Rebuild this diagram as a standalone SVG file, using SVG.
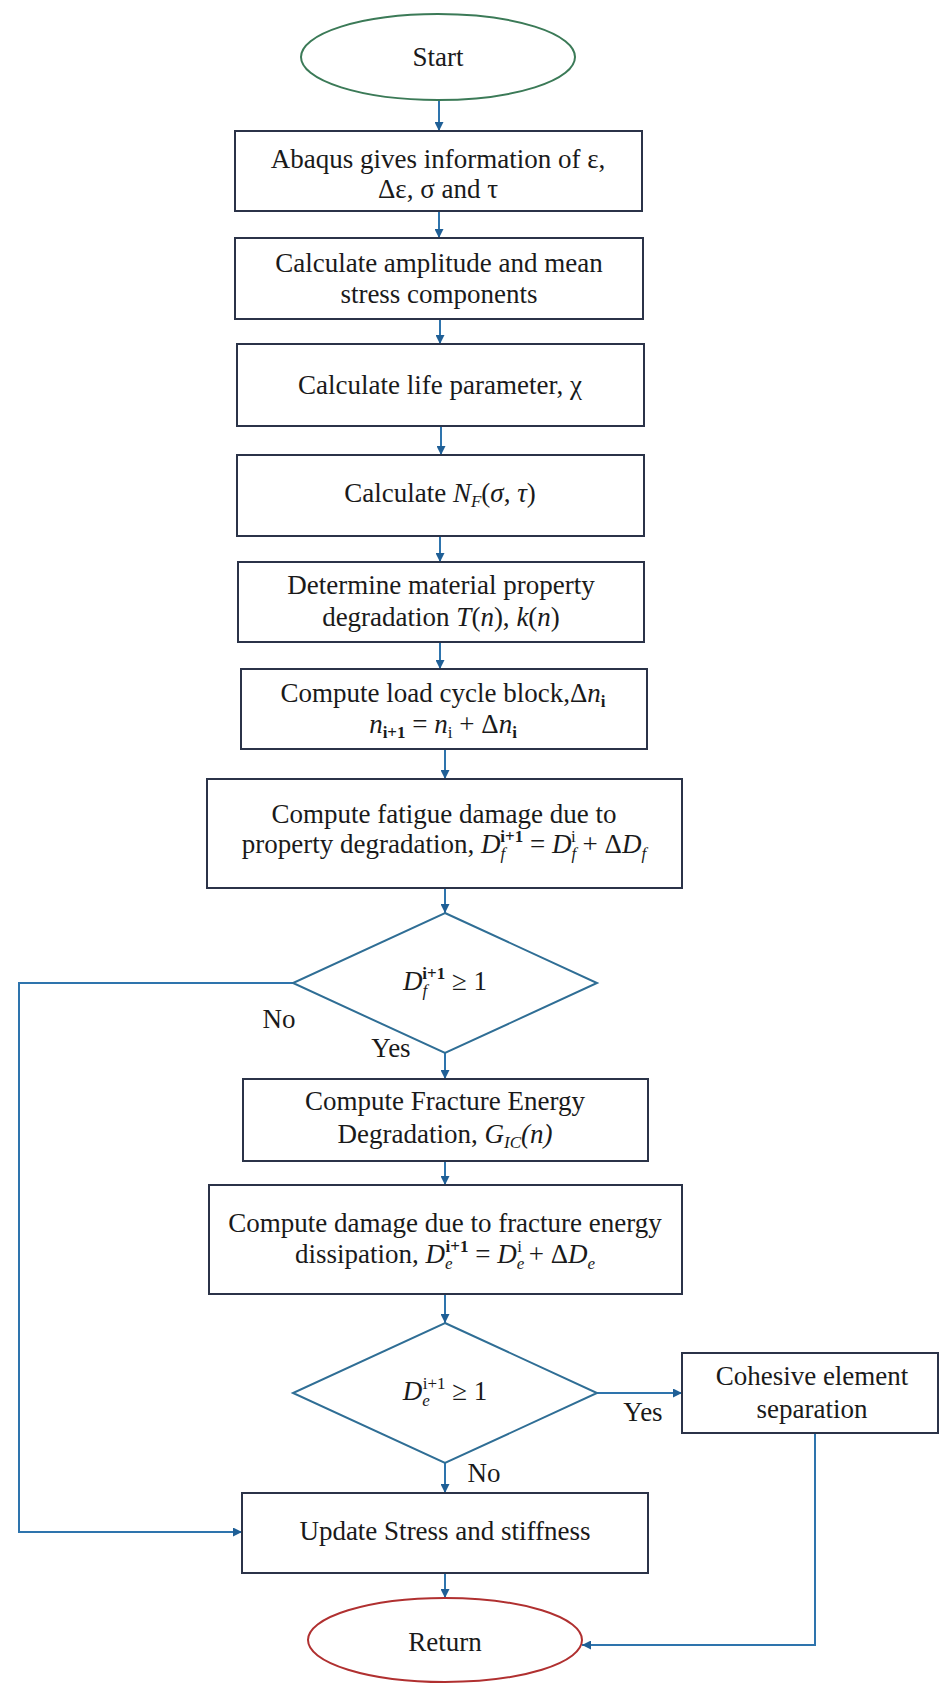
<svg xmlns="http://www.w3.org/2000/svg" width="941" height="1683" viewBox="0 0 941 1683">
<defs>
<marker id="arr" viewBox="0 0 10 10" refX="10" refY="5" markerWidth="11" markerHeight="9" markerUnits="userSpaceOnUse" orient="auto">
<path d="M0,0 L10,5 L0,10 z" fill="#1f5f96"/>
</marker>
<style>
.box{fill:#fff;stroke:#2b3348;stroke-width:2}
.dia{fill:#fff;stroke:#2f6e95;stroke-width:2}
.t{font-family:"Liberation Serif","Times New Roman",serif;font-size:27px;fill:#1a1a1a;text-anchor:middle}
.m{font-style:italic}
.s{font-size:17px}
.c{fill:none;stroke:#2e74ad;stroke-width:2}
</style>
</defs>
<rect width="941" height="1683" fill="#fff"/>

<g id="connectors">
<line class="c" x1="439" y1="100" x2="439" y2="131" marker-end="url(#arr)"/>
<line class="c" x1="439" y1="211" x2="439" y2="238" marker-end="url(#arr)"/>
<line class="c" x1="440" y1="319" x2="440" y2="344" marker-end="url(#arr)"/>
<line class="c" x1="441" y1="426" x2="441" y2="455" marker-end="url(#arr)"/>
<line class="c" x1="440" y1="536" x2="440" y2="562" marker-end="url(#arr)"/>
<line class="c" x1="440" y1="642" x2="440" y2="669" marker-end="url(#arr)"/>
<line class="c" x1="445" y1="749" x2="445" y2="779" marker-end="url(#arr)"/>
<line class="c" x1="445" y1="888" x2="445" y2="913" marker-end="url(#arr)"/>
<line class="c" x1="445" y1="1053" x2="445" y2="1079" marker-end="url(#arr)"/>
<line class="c" x1="445" y1="1161" x2="445" y2="1185" marker-end="url(#arr)"/>
<line class="c" x1="445" y1="1294" x2="445" y2="1323" marker-end="url(#arr)"/>
<line class="c" x1="445" y1="1463" x2="445" y2="1493" marker-end="url(#arr)"/>
<line class="c" x1="445" y1="1573" x2="445" y2="1598" marker-end="url(#arr)"/>
<line class="c" x1="597" y1="1393" x2="682" y2="1393" marker-end="url(#arr)"/>
<polyline class="c" points="815,1433 815,1645 582,1645" marker-end="url(#arr)"/>
<polyline class="c" points="293,983 19,983 19,1532 242,1532" marker-end="url(#arr)"/>
</g>

<g id="start">
<ellipse cx="438" cy="57" rx="137" ry="43" fill="#fff" stroke="#3b7a57" stroke-width="2"/>
<text class="t" x="438" y="66">Start</text>
</g>

<g id="abaqus">
<rect class="box" x="235" y="131" width="407" height="80"/>
<text class="t" x="438" y="168">Abaqus gives information of ε,</text>
<text class="t" x="438" y="198">Δε, σ and τ</text>
</g>

<g id="amplitude">
<rect class="box" x="235" y="238" width="408" height="81"/>
<text class="t" x="439" y="272">Calculate amplitude and mean</text>
<text class="t" x="439" y="303">stress components</text>
</g>

<g id="life">
<rect class="box" x="237" y="344" width="407" height="82"/>
<text class="t" x="440" y="394">Calculate life parameter, χ</text>
</g>

<g id="nf">
<rect class="box" x="237" y="455" width="407" height="81"/>
<text class="t" x="440" y="502">Calculate <tspan class="m">N</tspan><tspan class="s m" dy="5">F</tspan><tspan dy="-5">(</tspan><tspan class="m">σ</tspan>, <tspan class="m">τ</tspan>)</text>
</g>

<g id="degradation">
<rect class="box" x="238" y="562" width="406" height="80"/>
<text class="t" x="441" y="594">Determine material property</text>
<text class="t" x="441" y="626">degradation <tspan class="m">T</tspan>(<tspan class="m">n</tspan>), <tspan class="m">k</tspan>(<tspan class="m">n</tspan>)</text>
</g>

<g id="loadcycle">
<rect class="box" x="241" y="669" width="406" height="80"/>
<text class="t" x="443" y="702">Compute load cycle block,Δ<tspan class="m">n</tspan><tspan class="s" dy="5" font-weight="bold">i</tspan></text>
<text class="t" x="443" y="733"><tspan class="m">n</tspan><tspan class="s" dy="5" font-weight="bold">i+1</tspan><tspan dy="-5"> = </tspan><tspan class="m">n</tspan><tspan class="s" dy="5">i</tspan><tspan dy="-5"> + Δ</tspan><tspan class="m">n</tspan><tspan class="s" dy="5" font-weight="bold">i</tspan></text>
</g>

<g id="fatigue">
<rect class="box" x="207" y="779" width="475" height="109"/>
<text class="t" x="444" y="823">Compute fatigue damage due to</text>
<text class="t" x="444" y="853">property degradation, <tspan class="m">D</tspan><tspan class="s m" dy="6">f</tspan><tspan class="s" dx="-5" dy="-17" font-weight="bold">i+1</tspan><tspan dy="11"> = </tspan><tspan class="m">D</tspan><tspan class="s m" dy="6">f</tspan><tspan class="s" dx="-5" dy="-17">i</tspan><tspan dy="11"> + Δ</tspan><tspan class="m">D</tspan><tspan class="s m" dy="6">f</tspan></text>
</g>

<g id="decision1">
<polygon class="dia" points="445,913 597,983 445,1053 293,983"/>
<text class="t" x="445" y="990"><tspan class="m">D</tspan><tspan class="s m" dy="6">f</tspan><tspan class="s" dx="-5" dy="-17" font-weight="bold">i+1</tspan><tspan dy="11"> ≥ 1</tspan></text>
<text class="t" x="279" y="1028">No</text>
<text class="t" x="391" y="1057">Yes</text>
</g>

<g id="fracture">
<rect class="box" x="243" y="1079" width="405" height="82"/>
<text class="t" x="445" y="1110">Compute Fracture Energy</text>
<text class="t" x="445" y="1143">Degradation, <tspan class="m">G</tspan><tspan class="s m" dy="5">IC</tspan><tspan class="m" dy="-5">(n)</tspan></text>
</g>

<g id="dissipation">
<rect class="box" x="209" y="1185" width="473" height="109"/>
<text class="t" x="445" y="1232">Compute damage due to fracture energy</text>
<text class="t" x="445" y="1263">dissipation, <tspan class="m">D</tspan><tspan class="s m" dy="6">e</tspan><tspan class="s" dx="-7" dy="-17" font-weight="bold">i+1</tspan><tspan dy="11"> = </tspan><tspan class="m">D</tspan><tspan class="s m" dy="6">e</tspan><tspan class="s" dx="-7" dy="-17">i</tspan><tspan dy="11"> + Δ</tspan><tspan class="m">D</tspan><tspan class="s m" dy="6">e</tspan></text>
</g>

<g id="decision2">
<polygon class="dia" points="445,1323 597,1393 445,1463 293,1393"/>
<text class="t" x="445" y="1400"><tspan class="m">D</tspan><tspan class="s m" dy="6">e</tspan><tspan class="s" dx="-7" dy="-17">i+1</tspan><tspan dy="11"> ≥ 1</tspan></text>
<text class="t" x="643" y="1421">Yes</text>
<text class="t" x="484" y="1482">No</text>
</g>

<g id="cohesive">
<rect class="box" x="682" y="1353" width="256" height="80"/>
<text class="t" x="812" y="1385">Cohesive element</text>
<text class="t" x="812" y="1418">separation</text>
</g>

<g id="update">
<rect class="box" x="242" y="1493" width="406" height="80"/>
<text class="t" x="445" y="1540">Update Stress and stiffness</text>
</g>

<g id="return">
<ellipse cx="445" cy="1640" rx="137" ry="42" fill="#fff" stroke="#b03030" stroke-width="2"/>
<text class="t" x="445" y="1651">Return</text>
</g>
</svg>
